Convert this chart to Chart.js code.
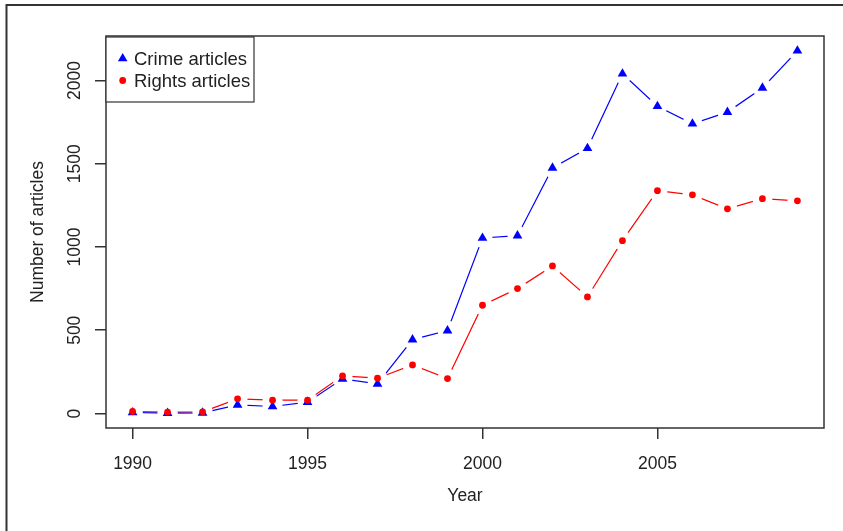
<!DOCTYPE html>
<html lang="en">
<head>
    <meta charset="UTF-8">
    <title>Crime and rights articles by year</title>
    <script src="https://cdn.jsdelivr.net/npm/chart.js"></script>
    <style>
        html, body {
            margin: 0;
            padding: 0;
            background: #ffffff;
        }
        canvas {
            display: block;
        }
    </style>
</head>
<body>
    <canvas id="articlesChart" width="843" height="531"></canvas>
    <script>
        // values
        const years = [1990, 1991, 1992, 1993, 1994, 1995, 1996, 1997, 1998, 1999,
                       2000, 2001, 2002, 2003, 2004, 2005, 2006, 2007, 2008, 2009];
        const crimeArticles = [6, 2, 4, 52, 42, 68, 208, 178, 444, 498,
                               1054, 1068, 1475, 1593, 2040, 1845, 1740, 1810, 1955, 2178];
        const rightsArticles = [12, 8, 10, 88, 80, 80, 226, 212, 292, 210,
                                650, 750, 886, 700, 1038, 1338, 1313, 1229, 1290, 1277];
        const seriesLabels = ['Crime articles', 'Rights articles'];
        const xTicks = [1990, 1995, 2000, 2005];
        const yTicks = [0, 500, 1000, 1500, 2000];

        const BLUE = '#0000ff';
        const RED = '#ff0000';
        const INK = '#222222';
        const FONT = '"Liberation Sans", Arial, sans-serif';

        const toPoints = vals => years.map((yr, i) => ({ x: yr, y: vals[i] }));

        // R style axes: rotated y labels, box round the plot, legend and outer frame
        const rStyle = {
            id: 'rStyle',
            afterDraw(chart) {
                const ctx = chart.ctx;
                const area = chart.chartArea;
                const yScale = chart.scales.y;
                ctx.save();

                // plot box
                ctx.strokeStyle = '#333';
                ctx.lineWidth = 1.5;
                ctx.strokeRect(area.left, area.top, area.right - area.left, area.bottom - area.top);

                // y tick labels, turned like R's las=0
                ctx.fillStyle = INK;
                ctx.font = '17.5px ' + FONT;
                ctx.textAlign = 'center';
                ctx.textBaseline = 'alphabetic';
                yTicks.forEach(v => {
                    const py = yScale.getPixelForValue(v);
                    ctx.save();
                    ctx.translate(80, py);
                    ctx.rotate(-Math.PI / 2);
                    ctx.fillText(String(v), 0, 0);
                    ctx.restore();
                });

                // legend in the top left corner
                const lx = area.left, ly = area.top + 1;
                ctx.fillStyle = '#fff';
                ctx.fillRect(lx, ly, 148, 65);
                ctx.strokeStyle = '#333';
                ctx.lineWidth = 1.2;
                ctx.strokeRect(lx, ly, 148, 65);
                ctx.font = '18.5px ' + FONT;
                ctx.textAlign = 'left';
                ctx.textBaseline = 'middle';
                const rows = [ly + 21.5, ly + 43.5];
                // triangle
                const r = 5.5, mx = lx + 16.7;
                ctx.fillStyle = BLUE;
                ctx.beginPath();
                ctx.moveTo(mx, rows[0] - r);
                ctx.lineTo(mx + r * Math.sqrt(3) / 2, rows[0] + r / 2);
                ctx.lineTo(mx - r * Math.sqrt(3) / 2, rows[0] + r / 2);
                ctx.closePath();
                ctx.fill();
                // dot
                ctx.fillStyle = RED;
                ctx.beginPath();
                ctx.arc(mx, rows[1], 3.4, 0, Math.PI * 2);
                ctx.fill();
                ctx.fillStyle = INK;
                ctx.fillText(seriesLabels[0], lx + 28, rows[0] + 1);
                ctx.fillText(seriesLabels[1], lx + 28, rows[1] + 1);

                // outer frame (left and top edges only)
                ctx.strokeStyle = '#333';
                ctx.lineWidth = 2;
                ctx.beginPath();
                ctx.moveTo(6.5, chart.height);
                ctx.lineTo(6.5, 5);
                ctx.lineTo(chart.width, 5);
                ctx.stroke();

                ctx.restore();
            }
        };

        const ctx = document.getElementById('articlesChart').getContext('2d');
        new Chart(ctx, {
            type: 'scatter',
            data: {
                datasets: [{
                    label: seriesLabels[1],
                    data: toPoints(rightsArticles),
                    showLine: false,
                    pointStyle: 'circle',
                    pointRadius: 3.4,
                    pointBorderWidth: 0,
                    pointBackgroundColor: RED,
                    order: 0
                }, {
                    label: seriesLabels[0],
                    data: toPoints(crimeArticles),
                    showLine: false,
                    pointStyle: 'triangle',
                    pointRadius: 5.6,
                    pointBorderWidth: 0,
                    pointBackgroundColor: BLUE,
                    order: 1
                }, {
                    // white gaps round the points, like R's type = "b"
                    label: 'gap crime',
                    data: toPoints(crimeArticles),
                    showLine: false,
                    pointRadius: 10,
                    pointBorderWidth: 0,
                    pointBackgroundColor: '#ffffff',
                    order: 2
                }, {
                    label: 'gap rights',
                    data: toPoints(rightsArticles),
                    showLine: false,
                    pointRadius: 10,
                    pointBorderWidth: 0,
                    pointBackgroundColor: '#ffffff',
                    order: 2
                }, {
                    label: 'line crime',
                    data: toPoints(crimeArticles),
                    showLine: true,
                    borderColor: BLUE,
                    borderWidth: 1.2,
                    pointRadius: 0,
                    order: 3
                }, {
                    label: 'line rights',
                    data: toPoints(rightsArticles),
                    showLine: true,
                    borderColor: RED,
                    borderWidth: 1.2,
                    pointRadius: 0,
                    order: 3
                }]
            },
            options: {
                responsive: false,
                animation: false,
                layout: { padding: { top: 36, right: 19, left: 0, bottom: 0 } },
                plugins: {
                    legend: { display: false },
                    tooltip: { enabled: false }
                },
                scales: {
                    x: {
                        type: 'linear',
                        min: 1989.24,
                        max: 2009.76,
                        afterBuildTicks: scale => { scale.ticks = xTicks.map(v => ({ value: v })); },
                        afterFit: scale => { scale.height = 103; },
                        grid: { drawOnChartArea: false, drawTicks: true, tickLength: 11, color: '#333', lineWidth: 1.5 },
                        border: { display: false },
                        ticks: {
                            callback: v => String(v),
                            font: { family: FONT, size: 17.5 },
                            color: INK,
                            padding: 15,
                            maxRotation: 0
                        },
                        title: {
                            display: true,
                            text: 'Year',
                            font: { family: FONT, size: 17.5 },
                            color: INK,
                            padding: { top: 0, bottom: 24 }
                        }
                    },
                    y: {
                        min: -87,
                        max: 2267,
                        afterBuildTicks: scale => { scale.ticks = yTicks.map(v => ({ value: v })); },
                        afterFit: scale => { scale.width = 106; },
                        grid: { drawOnChartArea: false, drawTicks: true, tickLength: 11, color: '#333', lineWidth: 1.5 },
                        border: { display: false },
                        ticks: { display: false },
                        title: {
                            display: true,
                            text: 'Number of articles',
                            font: { family: FONT, size: 17.5 },
                            color: INK,
                            padding: { top: 28, bottom: 0 }
                        }
                    }
                }
            },
            plugins: [rStyle]
        });
    </script>
</body>
</html>
